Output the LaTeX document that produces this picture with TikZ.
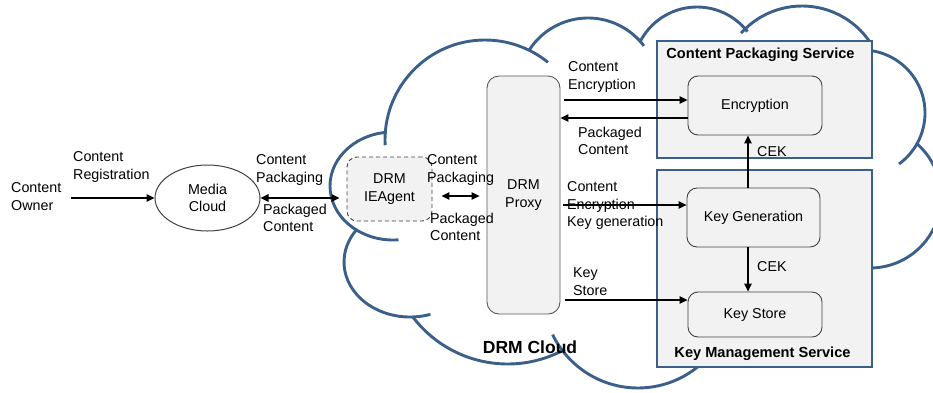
\documentclass[tikz,border=0pt]{standalone}
\usepackage{fontspec}
\setmainfont{Liberation Sans}
\usetikzlibrary{arrows.meta,shapes.geometric,calc}
\definecolor{cloudblue}{HTML}{3A5F8B}
\definecolor{boxgray}{HTML}{F2F2F2}

% one bump of the cloud outline: centre x, centre y, start, end, x radius, y radius
\newcommand\cloudarc[6]{%
  \draw[cloudline] ($(#1,#2)+({#5*cos(#3)},{#6*sin(#3)})$)
    arc[start angle=#3, end angle=#4, x radius=#5, y radius=#6];}

\begin{document}
\begin{tikzpicture}[x=1pt,y=1pt,
  cloudline/.style={draw=cloudblue,line width=2.9pt},
  txt/.style={font=\fontsize{14.3}{17.5}\selectfont},
  lbl/.style={txt,align=left,inner sep=0pt,anchor=north west},
  unit/.style={txt,draw=black!75,line width=0.9pt,fill=boxgray,rounded corners=10pt,align=center,inner sep=0pt},
  svc/.style={draw=cloudblue,line width=2.9pt,fill=boxgray,inner sep=0pt},
  title/.style={font=\fontsize{14.6}{17.5}\selectfont\bfseries,inner sep=0pt,anchor=base},
  arr/.style={-{Triangle[length=8pt,width=7.5pt]},line width=1.2pt},
  darr/.style={{Triangle[length=8pt,width=7.5pt]}-{Triangle[length=8pt,width=7.5pt]},line width=1.2pt}]

\useasboundingbox (0,0) rectangle (933,-392);
\clip (0,0) rectangle (933,-392);

% DRM cloud outline
\cloudarc{485}{-140}{183}{51}{100}{100}
\cloudarc{588}{-88}{148}{37}{70}{70}
\cloudarc{697}{-71}{153}{38}{64}{64}
\cloudarc{802}{-88}{138}{33}{82}{82}
\cloudarc{862}{-113}{95}{-54}{63}{63}
\cloudarc{870}{-197}{49}{-100}{71}{71}
\cloudarc{638}{-293}{206}{318}{95}{95}
\cloudarc{507.6}{-245}{217.4}{298.7}{119}{119}
\cloudarc{410}{-262}{144}{288}{66}{55}
\cloudarc{393}{-186}{96}{275}{63}{54}

% content owner and media cloud
\node[lbl] (owner) at (11,-182.5) {Content\\Owner};
\node[lbl] (reg) at (73,-151.5) {Content\\Registration};
\node[txt,ellipse,draw=black!75,line width=1pt,fill=white,minimum width=105pt,minimum height=66pt,align=center,inner sep=0pt] (media) at (207.5,-198) {Media\\Cloud};
\node[lbl] (pkgL) at (256,-154.5) {Content\\Packaging};
\node[lbl] (pkdL) at (263,-203.5) {Packaged\\Content};

% agent and proxy
\node[unit,dash pattern=on 4pt off 3pt,minimum width=85pt,minimum height=64pt] (agent) at (389.5,-189) {DRM\\IEAgent};
\node[unit,draw=black!65,rounded corners=12pt,minimum width=73pt,minimum height=238pt] (proxy) at (523.5,-195) {DRM\\Proxy};
\node[lbl] (pkgM) at (427,-154.5) {Content\\Packaging};
\node[lbl] (pkdM) at (430,-212.5) {Packaged\\Content};

% content packaging service
\node[svc,minimum width=215pt,minimum height=117pt] (cps) at (764.5,-99.5) {};
\node[title] (cpst) at (760.5,-58.3) {Content Packaging Service};
\node[unit,minimum width=134pt,minimum height=59pt] (enc) at (755,-105.5) {Encryption};

% key management service
\node[svc,minimum width=215pt,minimum height=197pt] (kms) at (764.5,-268.5) {};
\node[title] (kmst) at (762.5,-357.5) {Key Management Service};
\node[unit,minimum width=133pt,minimum height=59pt] (keygen) at (753.5,-217.5) {Key Generation};
\node[unit,minimum width=134pt,minimum height=45pt] (keystore) at (755,-314.5) {Key Store};

% message labels
\node[lbl] (encL) at (568,-61.5) {Content\\Encryption};
\node[lbl] (pkdT) at (578,-126.5) {Packaged\\Content};
\node[lbl] (kgL) at (567,-181.5) {Content\\Encryption\\Key generation};
\node[lbl] (ksL) at (573,-267.5) {Key\\Store};
\node[lbl] (cek1) at (757,-146.5) {CEK};
\node[lbl] (cek2) at (757,-261.5) {CEK};
\node[font=\fontsize{17.5}{20}\selectfont\bfseries,inner sep=0pt,anchor=base] (cloud) at (530,-353.3) {DRM Cloud};

% connectors
\draw[arr,shorten <=10pt] (owner.east |- media.west) -- (media.west);
\draw[darr,shorten >=7pt] (media.east) -- (media.east -| agent.west);
\draw[darr,shorten <=9pt,shorten >=7pt] ($(agent.east)+(0,-7)$) -- ($(proxy.west |- agent.east)+(0,-7)$);
\draw[arr,shorten <=4pt] ($(proxy.east |- enc.west)+(0,5.5)$) -- ($(enc.west)+(0,5.5)$);
\draw[arr] ($(enc.west)+(0,-12.5)$) -- ($(proxy.east |- enc.west)+(0,-12.5)$);
\draw[arr] ($(keygen.north)+(-5.5,0)$) -- ($(enc.south -| keygen.north)+(-5.5,0)$);
\draw[arr] ($(keygen.south)+(-5.5,0)$) -- ($(keystore.north -| keygen.south)+(-5.5,0)$);
\draw[arr,shorten <=3pt] ($(proxy.east |- keygen.west)+(0,12.5)$) -- ($(keygen.west)+(0,12.5)$);
\draw[arr,shorten <=5pt] ($(proxy.east |- keystore.west)+(0,14.5)$) -- ($(keystore.west)+(0,14.5)$);
\end{tikzpicture}
\end{document}
